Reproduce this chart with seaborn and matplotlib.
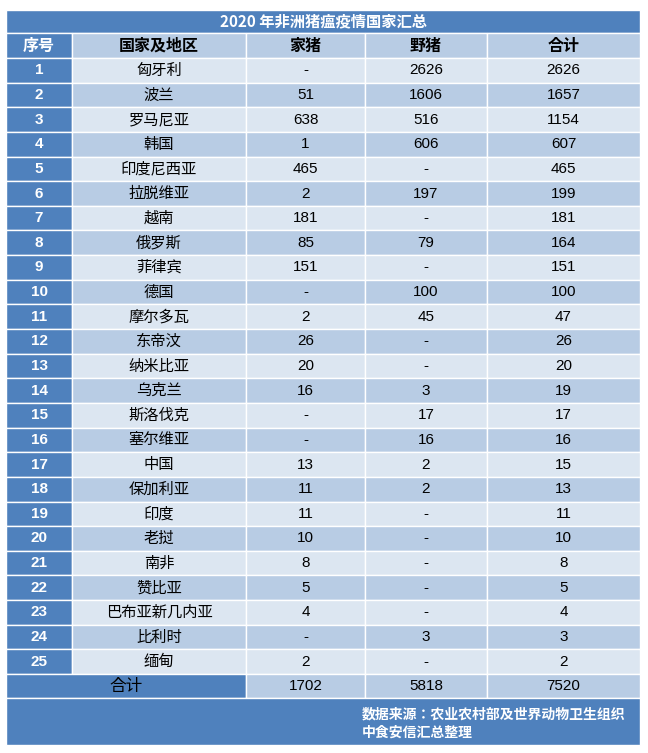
import matplotlib
matplotlib.use("Agg")
import glob
import matplotlib.pyplot as plt
from matplotlib import font_manager
from matplotlib.patches import Rectangle
import seaborn as sns

sns.set_style("white")
paths = [f.fname for f in font_manager.fontManager.ttflist]
paths += glob.glob("/usr/share/fonts/**/*", recursive=True)
cand = [p for p in paths if "SansCJK" in p.replace(" ", "") or "sanscjk" in p.lower()]
cand.sort(key=lambda p: (0 if "Regular" in p or "regular" in p else 1, 0 if "SC" in p else 1))
bold_c = [p for p in cand if "Bold" in p]
reg = font_manager.FontProperties(fname=cand[0]) if cand else font_manager.FontProperties(family="Noto Sans CJK SC")
bld = font_manager.FontProperties(fname=bold_c[0]) if bold_c else reg.copy()
if not bold_c:
    bld.set_weight("bold")
lat = font_manager.FontProperties(family="Liberation Sans")
latb = font_manager.FontProperties(family="Liberation Sans", weight="bold")

title = "2020 年非洲猪瘟疫情国家汇总"
headers = ["序号", "国家及地区", "家猪", "野猪", "合计"]
countries = ["匈牙利", "波兰", "罗马尼亚", "韩国", "印度尼西亚", "拉脱维亚", "越南", "俄罗斯", "菲律宾", "德国",
             "摩尔多瓦", "东帝汶", "纳米比亚", "乌克兰", "斯洛伐克", "塞尔维亚", "中国", "保加利亚", "印度", "老挝",
             "南非", "赞比亚", "巴布亚新几内亚", "比利时", "缅甸"]
domestic = ["-", "51", "638", "1", "465", "2", "181", "85", "151", "-", "2", "26", "20", "16", "-", "-", "13", "11",
            "11", "10", "8", "5", "4", "-", "2"]
wild = ["2626", "1606", "516", "606", "-", "197", "-", "79", "-", "100", "45", "-", "-", "3", "17", "16", "2", "2",
        "-", "-", "-", "-", "-", "3", "-"]
total = ["2626", "1657", "1154", "607", "465", "199", "181", "164", "151", "100", "47", "26", "20", "19", "17", "16",
         "15", "13", "11", "10", "8", "5", "4", "3", "2"]
sum_label = "合计"
sums = ["1702", "5818", "7520"]
source = ["数据来源：农业农村部及世界动物卫生组织", "中食安信汇总整理"]

BLUE = "#4F81BD"
LIGHT = "#DCE6F1"
DARK = "#B8CCE4"
W, H = 648, 753
fig = plt.figure(figsize=(W / 100, H / 100), dpi=100)
ax = fig.add_axes([0, 0, 1, 1])
ax.set_xlim(0, W)
ax.set_ylim(H, 0)
ax.axis("off")

def is_ascii(s):
    return all(ord(c) < 128 for c in s)

xs = [6, 72, 246, 365, 487, 640]
def cell(x0, x1, y0, y1, fc, text="", color="black", bold=False, size=11):
    ax.add_patch(Rectangle((x0, y0), x1 - x0, y1 - y0, facecolor=fc, edgecolor="white", lw=1))
    if text:
        fp = (latb if bold else lat) if is_ascii(text) else (bld if bold else reg)
        fp = fp.copy()
        fp.set_size(size)
        ax.text((x0 + x1) / 2, (y0 + y1) / 2, text, ha="center", va="center", color=color, fontproperties=fp)

cell(xs[0], xs[-1], 10, 33, BLUE, title, "white", True, 11)
for i, h in enumerate(headers):
    cell(xs[i], xs[i + 1], 33, 58, BLUE if i == 0 else DARK, h, "white" if i == 0 else "black", True, 11.5)
rh = (674 - 58) / 25
for r in range(25):
    y0 = 58 + r * rh
    bg = LIGHT if r % 2 == 0 else DARK
    cell(xs[0], xs[1], y0, y0 + rh, BLUE, str(r + 1), "white", True, 11)
    for i, v in enumerate([countries[r], domestic[r], wild[r], total[r]]):
        cell(xs[i + 1], xs[i + 2], y0, y0 + rh, bg, v, size=11)
cell(xs[0], xs[2], 674, 698, BLUE, sum_label, "black", False, 12)
for i, v in enumerate(sums):
    cell(xs[i + 2], xs[i + 3], 674, 698, DARK, v, size=11)
ax.add_patch(Rectangle((6, 698), 634, 47, facecolor=BLUE, edgecolor="white", lw=1))
sp = bld.copy()
sp.set_size(10)
sp.set_style("italic")
ax.text(362, 714, source[0], ha="left", va="center", color="white", fontproperties=sp)
ax.text(362, 733, source[1], ha="left", va="center", color="white", fontproperties=sp)
fig.savefig("out.png", dpi=100, facecolor="white")
